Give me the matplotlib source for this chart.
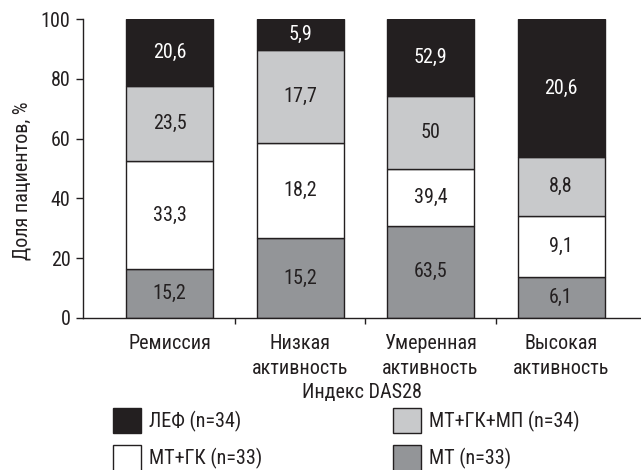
import numpy as np
import matplotlib
matplotlib.use("Agg")
import matplotlib.pyplot as plt
from matplotlib.patches import Patch
from matplotlib import font_manager

# --- Daten ---
categories = ["Ремиссия", "Низкая\nактивность", "Умеренная\nактивность", "Высокая\nактивность"]
mt = [15.2, 15.2, 63.5, 6.1]          # МТ (n=33)
mt_gk = [33.3, 18.2, 39.4, 9.1]       # МТ+ГК (n=33)
mt_gk_mp = [23.5, 17.7, 50, 8.8]      # МТ+ГК+МП (n=34)
lef = [20.6, 5.9, 52.9, 20.6]         # ЛЕФ (n=34)

series_names = ["МТ (n=33)", "МТ+ГК (n=33)", "МТ+ГК+МП (n=34)", "ЛЕФ (n=34)"]
series_colors = ["#939598", "#ffffff", "#c8c9cb", "#231f20"]
text_colors = ["#231f20", "#231f20", "#231f20", "#ffffff"]

FS = 14.5

# schmale Schrift, falls vorhanden
installed = {f.name for f in font_manager.fontManager.ttflist}
narrow = [n for n in ["Liberation Sans Narrow", "Roboto Condensed", "Open Sans Condensed",
                      "Noto Sans Condensed", "DejaVu Sans Condensed", "Roboto", "Liberation Sans"]
          if n in installed]
plt.rcParams['font.family'] = narrow[:1] + ['DejaVu Sans']
plt.rcParams['font.size'] = FS
plt.rcParams['text.color'] = '#231f20'
plt.rcParams['axes.labelcolor'] = '#231f20'
plt.rcParams['xtick.color'] = '#231f20'
plt.rcParams['ytick.color'] = '#231f20'

series = [mt, mt_gk, mt_gk_mp, lef]
raw = np.array(series, dtype=float)
# jede Säule auf 100 % normiert
heights = raw / raw.sum(axis=0) * 100

fig = plt.figure(figsize=(6.41, 4.70), dpi=100)
ax = fig.add_axes([83 / 641, 1 - 317.7 / 470, (640 - 83) / 641, (317.7 - 19.3) / 470])

x = np.arange(len(categories))
bottom = np.zeros(len(categories))
for i in range(len(series)):
    bars = ax.bar(x, heights[i], 0.667, bottom=bottom, color=series_colors[i],
                  edgecolor="#231f20", linewidth=1.0, zorder=2)
    labels = [f"{v:g}".replace(".", ",") for v in series[i]]
    ax.bar_label(bars, labels=labels, label_type="center", color=text_colors[i], fontsize=FS)
    bottom += heights[i]

ax.set_xlim(-0.663, 3.605)
ax.set_ylim(0, 100)
ax.set_yticks(np.arange(0, 101, 20))
ax.set_xticks(x)
ax.set_xticklabels(categories, linespacing=1.38)
ax.set_xticks([0.5, 1.5, 2.5], minor=True)
ax.tick_params(axis="x", which="major", length=0, pad=12)
ax.tick_params(axis="x", which="minor", length=4, width=1.0, direction="out")
ax.tick_params(axis="y", length=5, width=1.0, direction="out", pad=4)

for s in ["top", "right"]:
    ax.spines[s].set_visible(False)
for s in ["left", "bottom"]:
    ax.spines[s].set_linewidth(1.0)
    ax.spines[s].set_color("#231f20")

ax.set_ylabel("Доля пациентов, %")
ax.yaxis.set_label_coords(-0.0916, 0.46)
ax.set_xlabel("Индекс DAS28", labelpad=3.5)

# Legende in zwei Spalten
def handle(c):
    return Patch(facecolor=c, edgecolor="#231f20", linewidth=1.0)

leg_kw = dict(loc="upper left", frameon=False, borderpad=0, borderaxespad=0,
              handlelength=1.39, handleheight=1.56, handletextpad=0.4,
              labelspacing=0.6, fontsize=FS)
leg1 = fig.legend([handle(series_colors[3]), handle(series_colors[1])],
                  [series_names[3], series_names[1]],
                  bbox_to_anchor=(113 / 641, 1 - 408 / 470), **leg_kw)
leg2 = fig.legend([handle(series_colors[2]), handle(series_colors[0])],
                  [series_names[2], series_names[0]],
                  bbox_to_anchor=(393 / 641, 1 - 408 / 470), **leg_kw)

fig.savefig("out.png", dpi=100)
